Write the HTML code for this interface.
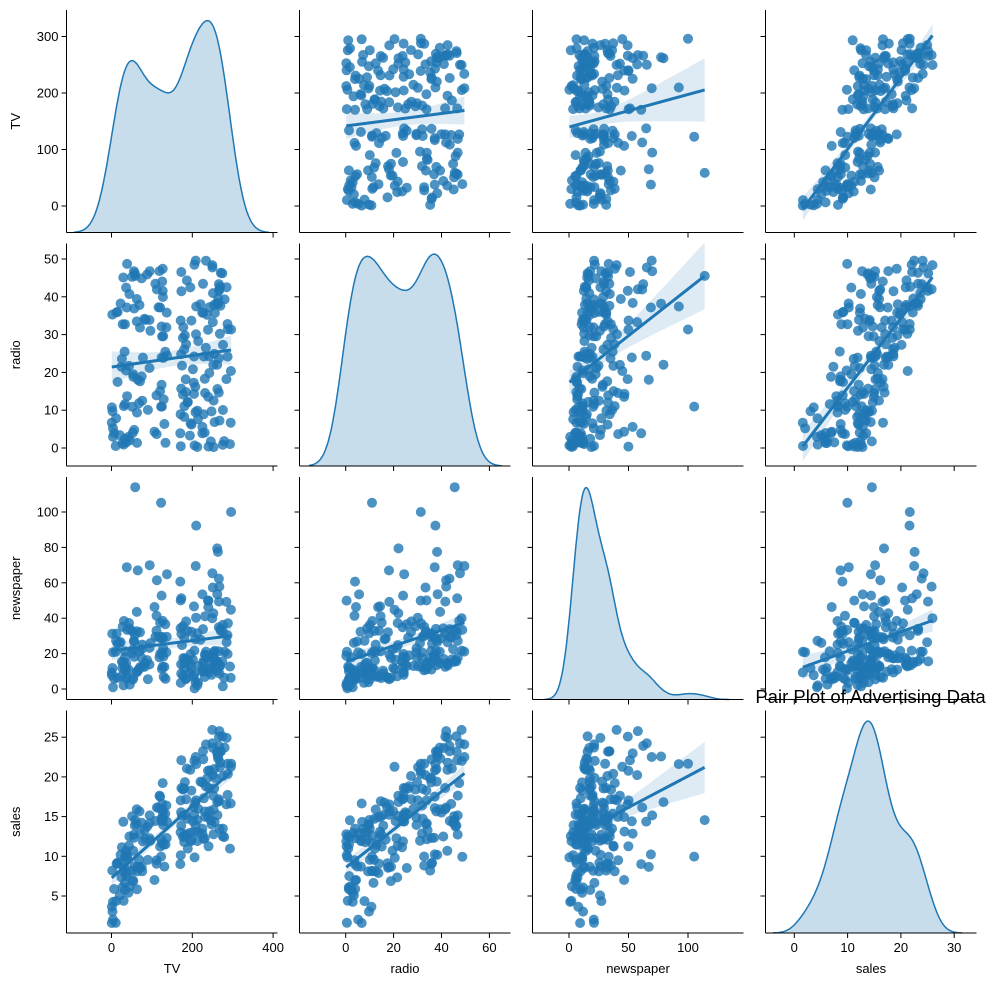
<!DOCTYPE html>
<html><head><meta charset="utf-8"><style>
html,body{margin:0;padding:0;background:#fff;}
svg text{font-family:"Liberation Sans","DejaVu Sans",sans-serif;fill:#000;}
</style></head><body>
<svg id="s" width="996" height="986" xmlns="http://www.w3.org/2000/svg"></svg>
<script>
var S=document.getElementById('s');var out='';
var seed=777;function rnd(){seed=(seed*1103515245+12345)%2147483648;return seed/2147483648;}
function nrm(){var u=rnd()||1e-9,v=rnd();return Math.sqrt(-2*Math.log(u))*Math.cos(2*Math.PI*v);}
var N=200,D={TV:[],radio:[],newspaper:[],sales:[]};
for(var i=0;i<N;i++){
 var u=rnd();var tv=u<0.4?(rnd()*140):(u<0.85?(170+rnd()*126):rnd()*296);
 var r=rnd()*49.6;
 var nw=0.3*r+(-Math.log(rnd()||1e-9))*20; if(nw>114)nw=10+rnd()*60;
 var sl=1.15*(2+0.5*Math.sqrt(tv)+0.1*r+0.0006*tv*r)+nrm()*1.2;
 sl=Math.max(1.6,Math.min(27,sl));
 D.TV.push(tv);D.radio.push(r);D.newspaper.push(nw);D.sales.push(sl);}
D.TV[0]=0.7;D.sales[0]=1.6;D.TV[1]=296;D.newspaper[1]=100;D.newspaper[2]=114;
var vars=['TV','radio','newspaper','sales'];
var colX=[66.5,299.5,532.5,765.5],W=211,rowY=[10,243.5,477,710.5],H=222.5;
var xm={TV:[0,111.5,200,192.3],radio:[0,345.7,20,393.6],newspaper:[0,569,50,628.5],sales:[0,794.3,10,847.6]};
var ym={TV:[0,206,100,149.5],radio:[0,448,10,410.2],newspaper:[0,689,20,653.6],sales:[5,896,10,856.3]};
function X(v,val){var m=xm[v];return m[1]+(val-m[0])*(m[3]-m[1])/(m[2]-m[0]);}
function Y(v,val){var m=ym[v];return m[1]+(val-m[0])*(m[3]-m[1])/(m[2]-m[0]);}
var xt={TV:[0,200,400],radio:[0,20,40,60],newspaper:[0,50,100],sales:[0,10,20,30]};
var yt={TV:[0,100,200,300],radio:[0,10,20,30,40,50],newspaper:[0,20,40,60,80,100],sales:[5,10,15,20,25]};
var C='#1f77b4';
for(var ri=0;ri<4;ri++)for(var ci=0;ci<4;ci++){
 var xv=vars[ci],yv=vars[ri],x0=colX[ci],y0=rowY[ri],x1=x0+W,y1=y0+H;
 out+='<g>';
 if(ri==ci){
  var d=D[xv],n=d.length,m=d.reduce((a,b)=>a+b)/n,sd=Math.sqrt(d.reduce((a,b)=>a+(b-m)*(b-m),0)/(n-1)),bw=sd*Math.pow(n,-0.2);
  var mn=Math.min.apply(null,d)-3*bw,mx=Math.max.apply(null,d)+3*bw,pts=[],mxk=0;
  for(var k=0;k<=200;k++){var xx=mn+(mx-mn)*k/200,s=0;for(var j=0;j<n;j++){var z=(xx-d[j])/bw;s+=Math.exp(-z*z/2);}pts.push([xx,s]);if(s>mxk)mxk=s;}
  var p=pts.map(q=>X(xv,q[0]).toFixed(1)+','+(y1-q[1]/(mxk*1.05)*H).toFixed(1)).join(' ');
  out+='<polygon points="'+X(xv,mn).toFixed(1)+','+y1+' '+p+' '+X(xv,mx).toFixed(1)+','+y1+'" fill="'+C+'" fill-opacity="0.25"/>';
  out+='<polyline points="'+p+'" fill="none" stroke="'+C+'" stroke-width="1.5"/>';
 }else{
  var dx=D[xv],dy=D[yv];
  for(var j=0;j<N;j++)out+='<circle cx="'+X(xv,dx[j]).toFixed(1)+'" cy="'+Y(yv,dy[j]).toFixed(1)+'" r="5" fill="'+C+'" fill-opacity="0.8"/>';
  var mxv=dx.reduce((a,b)=>a+b)/N,myv=dy.reduce((a,b)=>a+b)/N,sxx=0,sxy=0;
  for(j=0;j<N;j++){sxx+=(dx[j]-mxv)*(dx[j]-mxv);sxy+=(dx[j]-mxv)*(dy[j]-myv);}
  var b=sxy/sxx,a=myv-b*mxv,ss=0;for(j=0;j<N;j++){var e=dy[j]-a-b*dx[j];ss+=e*e;}var s=Math.sqrt(ss/(N-2));
  var lo=Math.min.apply(null,dx),hi=Math.max.apply(null,dx),up=[],dn=[];
  for(var k=0;k<=40;k++){var xx=lo+(hi-lo)*k/40,yy=a+b*xx,se=1.96*s*Math.sqrt(1/N+(xx-mxv)*(xx-mxv)/sxx);
   up.push(X(xv,xx).toFixed(1)+','+Y(yv,yy+se).toFixed(1));dn.unshift(X(xv,xx).toFixed(1)+','+Y(yv,yy-se).toFixed(1));}
  out+='<polygon points="'+up.concat(dn).join(' ')+'" fill="'+C+'" fill-opacity="0.15"/>';
  out+='<line x1="'+X(xv,lo)+'" y1="'+Y(yv,a+b*lo)+'" x2="'+X(xv,hi)+'" y2="'+Y(yv,a+b*hi)+'" stroke="'+C+'" stroke-width="3"/>';
 }
 out+='<line x1="'+x0+'" y1="'+y0+'" x2="'+x0+'" y2="'+y1+'" stroke="#000" stroke-width="1"/>';
 out+='<line x1="'+x0+'" y1="'+y1+'" x2="'+x1+'" y2="'+y1+'" stroke="#000" stroke-width="1"/>';
 xt[xv].forEach(function(t){var px=X(xv,t);out+='<line x1="'+px+'" y1="'+y1+'" x2="'+px+'" y2="'+(y1+5)+'" stroke="#000"/>';
  if(ri==3)out+='<text x="'+px+'" y="'+(y1+19)+'" font-size="13" text-anchor="middle">'+t+'</text>';});
 yt[yv].forEach(function(t){var py=Y(yv,t);out+='<line x1="'+(x0-5)+'" y1="'+py+'" x2="'+x0+'" y2="'+py+'" stroke="#000"/>';
  if(ci==0)out+='<text x="'+(x0-8)+'" y="'+(py+4.5)+'" font-size="13" text-anchor="end">'+t+'</text>';});
 out+='</g>';
}
for(var k=0;k<4;k++){
 out+='<text x="'+(colX[k]+W/2)+'" y="973" font-size="13" text-anchor="middle">'+vars[k]+'</text>';
 var cy=rowY[k]+H/2;out+='<text transform="translate(20,'+cy+') rotate(-90)" font-size="13" text-anchor="middle">'+vars[k]+'</text>';
}
out+='<text x="870.5" y="703" font-size="18.5" text-anchor="middle">Pair Plot of Advertising Data</text>';
S.innerHTML=out;
</script>
</body></html>
